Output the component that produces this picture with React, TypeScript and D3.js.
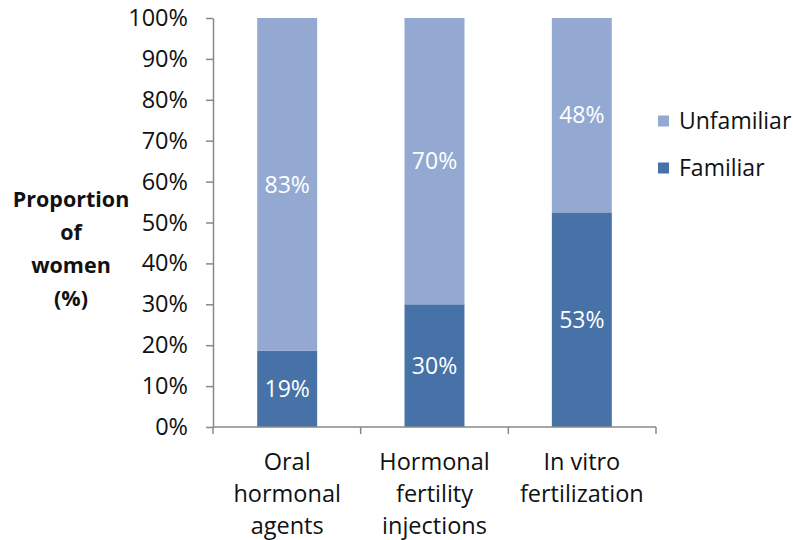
import React, { useEffect, useRef } from 'react';
import * as d3 from 'd3';

const categories = [
    ['Oral', 'hormonal', 'agents'],
    ['Hormonal', 'fertility', 'injections'],
    ['In vitro', 'fertilization'],
];
const familiar = [19, 30, 53];
const unfamiliar = [83, 70, 48];
const seriesNames = ['Familiar', 'Unfamiliar'];
const yTicks = [0, 0.1, 0.2, 0.3, 0.4, 0.5, 0.6, 0.7, 0.8, 0.9, 1];
const titleLines = ['Proportion', 'of', 'women', '(%)'];

const colors: Record<string, string> = { Familiar: '#4672a8', Unfamiliar: '#94a9d1' };
const font = "'Open Sans', sans-serif";

export default function App() {
    const ref = useRef<SVGSVGElement>(null);

    useEffect(() => {
        const svg = d3.select(ref.current);
        svg.selectAll('*').remove();

        const margin = { top: 18, right: 137, bottom: 113, left: 213 };
        const width = 793, height = 540;

        const rows = categories.map((c, i) => ({ i, Familiar: familiar[i], Unfamiliar: unfamiliar[i] }));
        const stack = d3.stack<any>().keys(seriesNames).offset(d3.stackOffsetExpand);
        const layers = stack(rows);

        const x = d3.scaleBand<number>()
            .domain(categories.map((_, i) => i))
            .range([margin.left, width - margin.right])
            .paddingInner(0.593).paddingOuter(0.3);
        const y = d3.scaleLinear().domain([0, 1]).range([height - margin.bottom, margin.top]);

        // bars
        layers.forEach(layer => {
            svg.append('g').selectAll('rect')
                .data(layer)
                .join('rect')
                .attr('x', (d: any) => x(d.data.i)!)
                .attr('width', x.bandwidth())
                .attr('y', d => y(d[1]))
                .attr('height', d => y(d[0]) - y(d[1]))
                .attr('fill', colors[layer.key]);

            svg.append('g').selectAll('text')
                .data(layer)
                .join('text')
                .attr('x', (d: any) => x(d.data.i)! + x.bandwidth() / 2)
                .attr('y', d => (y(d[0]) + y(d[1])) / 2)
                .attr('dy', '0.36em')
                .attr('text-anchor', 'middle')
                .attr('fill', '#fff')
                .attr('font-family', font)
                .attr('font-size', 23)
                .text((d: any) => d.data[layer.key] + '%');
        });

        // y axis
        const yAxis = svg.append('g')
            .attr('transform', `translate(${margin.left},0)`)
            .call(d3.axisLeft(y).tickValues(yTicks).tickFormat(d3.format('.0%')).tickSize(7).tickSizeOuter(0));
        yAxis.select('.domain').attr('stroke', '#888').attr('stroke-width', 1.5);
        yAxis.selectAll('.tick line').attr('stroke', '#888').attr('stroke-width', 1.5);
        yAxis.selectAll('.tick text')
            .attr('font-family', font).attr('font-size', 23.5).attr('fill', '#111').attr('x', -25);

        // x axis
        const x0 = margin.left, x1 = width - margin.right;
        const step = (x1 - x0) / categories.length;
        const xAxisG = svg.append('g');
        xAxisG.append('line')
            .attr('x1', x0).attr('x2', x1)
            .attr('y1', y(0)).attr('y2', y(0))
            .attr('stroke', '#888').attr('stroke-width', 1.5);
        xAxisG.selectAll('line.tk')
            .data(d3.range(categories.length + 1))
            .join('line')
            .attr('class', 'tk')
            .attr('x1', i => x0 + i * step).attr('x2', i => x0 + i * step)
            .attr('y1', y(0)).attr('y2', y(0) + 7)
            .attr('stroke', '#888').attr('stroke-width', 1.5);

        categories.forEach((lines, i) => {
            const t = svg.append('text')
                .attr('text-anchor', 'middle')
                .attr('font-family', font)
                .attr('font-size', 23.5)
                .attr('fill', '#111');
            lines.forEach((ln, j) => {
                t.append('tspan')
                    .attr('x', x(i)! + x.bandwidth() / 2)
                    .attr('y', 470 + j * 32)
                    .text(ln);
            });
        });

        // y title
        const title = svg.append('text')
            .attr('text-anchor', 'middle')
            .attr('font-family', font)
            .attr('font-weight', 'bold')
            .attr('font-size', 21.5)
            .attr('fill', '#111');
        titleLines.forEach((ln, j) => {
            title.append('tspan').attr('x', 71).attr('y', 207 + j * 33).text(ln);
        });

        // legend
        const legend = svg.append('g').attr('transform', 'translate(658,0)');
        ['Unfamiliar', 'Familiar'].forEach((k, j) => {
            const cy = 121 + j * 47;
            legend.append('rect')
                .attr('x', 0).attr('y', cy - 5.5).attr('width', 11).attr('height', 11)
                .attr('fill', colors[k]);
            legend.append('text')
                .attr('x', 21).attr('y', cy).attr('dy', '0.36em')
                .attr('font-family', font).attr('font-size', 23).attr('fill', '#111')
                .text(k);
        });
    }, []);

    return <svg ref={ref} width={793} height={540}
        style={{ position: 'absolute', left: 0, top: 0, background: '#fff' }} />;
}
